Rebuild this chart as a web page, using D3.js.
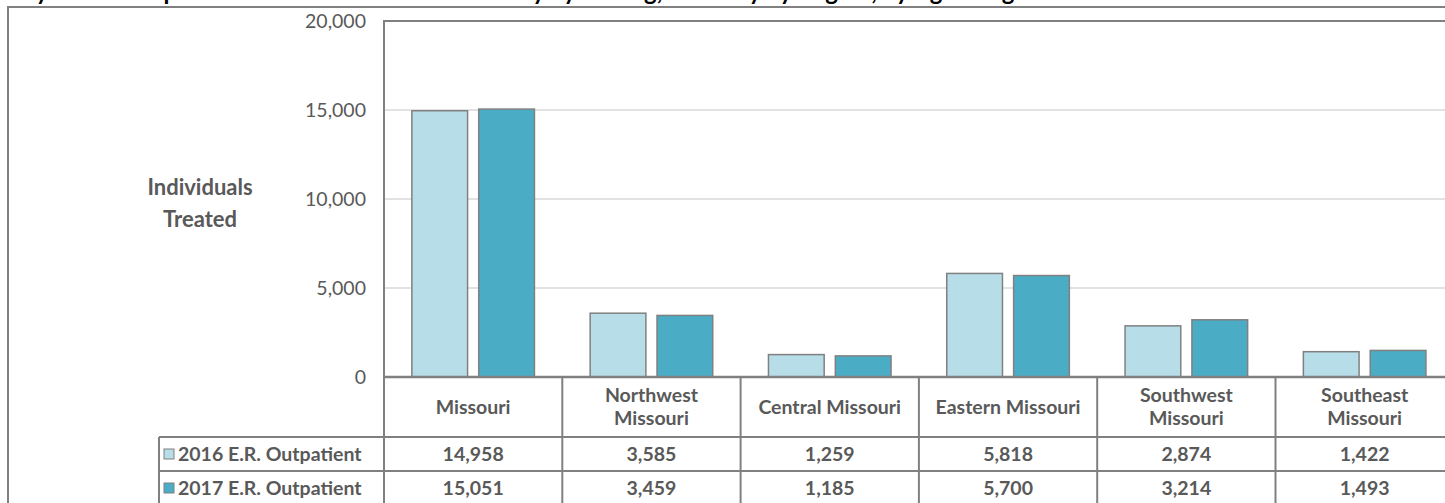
<!DOCTYPE html>
<html>
<head>
<meta charset="utf-8">
<script src="https://cdn.jsdelivr.net/npm/d3@7"></script>
<style>
  html, body { margin: 0; padding: 0; background: #fff; }
  svg { display: block; }
  text { font-family: Lato, "Open Sans", sans-serif; }
</style>
</head>
<body>
<svg id="chart" width="1445" height="503"></svg>
<script>
const title = "Emergency Room Outpatient Individuals Treated Annually by Setting, Annually by Region, by Age Range";
const categories = ["Missouri", "Northwest Missouri", "Central Missouri", "Eastern Missouri", "Southwest Missouri", "Southeast Missouri"];
const categoryLines = [["Missouri"], ["Northwest", "Missouri"], ["Central Missouri"], ["Eastern Missouri"], ["Southwest", "Missouri"], ["Southeast", "Missouri"]];
const seriesNames = ["2016 E.R. Outpatient", "2017 E.R. Outpatient"];
const values2016 = [14958, 3585, 1259, 5818, 2874, 1422];
const values2017 = [15051, 3459, 1185, 5700, 3214, 1493];
const yTicks = [0, 5000, 10000, 15000, 20000];
const yTitle = ["Individuals", "Treated"];
const colors = ["#b7dde8", "#4bacc6"];

const seriesValues = [values2016, values2017];
const svg = d3.select("#chart");
const lineColor = "#808080";
const textColor = "#595959";
const fmt = d3.format(",");

const plotLeft = 384, plotTop = 21, plotBottom = 377, catW = 178.3;
const x = d3.scaleBand().domain(categories).range([plotLeft, plotLeft + catW * categories.length]).padding(0);
const xs = d3.scaleBand().domain(seriesNames).range([0, x.bandwidth()]).paddingInner(1/6).paddingOuter(0.5/1.2);
const y = d3.scaleLinear().domain([0, 20000]).range([plotBottom, plotTop]);

// title (clipped at top, as in the source)
svg.append("text").attr("x", -70).attr("y", 0).attr("font-size", 24).attr("font-weight", "bold")
  .attr("fill", "#000").text(title);

// outer border
svg.append("path").attr("d", `M8,503 V7 H1445`).attr("fill", "none").attr("stroke", lineColor).attr("stroke-width", 2);

// gridlines
const grid = svg.append("g");
yTicks.filter(t => t > 0 && t < 20000).forEach(t => {
  grid.append("line").attr("x1", plotLeft).attr("x2", 1445).attr("y1", y(t)).attr("y2", y(t))
    .attr("stroke", "#d9d9d9").attr("stroke-width", 1.5);
});

// y axis labels
const yAxis = d3.axisLeft(y).tickValues(yTicks).tickFormat(fmt).tickSize(0).tickPadding(18);
const ya = svg.append("g").attr("transform", `translate(${plotLeft},0)`).call(yAxis);
ya.select(".domain").remove();
ya.selectAll("text").attr("font-size", 19.5).attr("fill", textColor).attr("font-family", "Lato, 'Open Sans', sans-serif");

// y title
svg.append("text").attr("x", 200).attr("y", 195).attr("text-anchor", "middle")
  .attr("font-size", 22).attr("font-weight", "bold").attr("fill", textColor)
  .selectAll("tspan").data(yTitle).join("tspan")
  .attr("x", 200).attr("dy", (d, i) => i === 0 ? 0 : 32).text(d => d);

// bars
categories.forEach((c, ci) => {
  seriesNames.forEach((s, si) => {
    const v = seriesValues[si][ci];
    svg.append("rect")
      .attr("x", x(c) + xs(s)).attr("width", xs.bandwidth())
      .attr("y", y(v)).attr("height", y(0) - y(v))
      .attr("fill", colors[si]).attr("stroke", lineColor).attr("stroke-width", 1.5);
  });
});

// plot border top + left
svg.append("path").attr("d", `M${plotLeft},503 V${plotTop} H1445`).attr("fill", "none").attr("stroke", lineColor).attr("stroke-width", 2);

// data table
const rowY = [377, 437, 471, 505];
const tableLeft = 159;
const fs = 19.5;
const t = svg.append("g");
t.append("line").attr("x1", plotLeft).attr("x2", 1445).attr("y1", rowY[0]).attr("y2", rowY[0]).attr("stroke", lineColor).attr("stroke-width", 2.5);
[rowY[1], rowY[2], rowY[3]].forEach(yy => {
  t.append("line").attr("x1", tableLeft).attr("x2", 1445).attr("y1", yy).attr("y2", yy).attr("stroke", lineColor).attr("stroke-width", 2);
});
t.append("line").attr("x1", tableLeft).attr("x2", tableLeft).attr("y1", rowY[1]).attr("y2", 503).attr("stroke", lineColor).attr("stroke-width", 2);
categories.forEach((c, ci) => {
  const xr = x(c) + x.bandwidth();
  t.append("line").attr("x1", xr).attr("x2", xr).attr("y1", rowY[0]).attr("y2", 503).attr("stroke", lineColor).attr("stroke-width", 2);
  const lines = categoryLines[ci];
  const cx = x(c) + x.bandwidth() / 2;
  const midY = (rowY[0] + rowY[1]) / 2;
  const lh = 23;
  lines.forEach((ln, li) => {
    t.append("text").attr("x", cx).attr("y", midY + (li - (lines.length - 1) / 2) * lh)
      .attr("dy", "0.35em").attr("text-anchor", "middle").attr("font-size", fs).attr("font-weight", "bold")
      .attr("fill", textColor).text(ln);
  });
  seriesValues.forEach((vals, si) => {
    t.append("text").attr("x", cx).attr("y", (rowY[si + 1] + rowY[si + 2]) / 2)
      .attr("dy", "0.35em").attr("text-anchor", "middle").attr("font-size", fs).attr("font-weight", "bold")
      .attr("fill", textColor).text(fmt(vals[ci]));
  });
});
// legend cells
seriesNames.forEach((s, si) => {
  const cy = (rowY[si + 1] + rowY[si + 2]) / 2;
  t.append("rect").attr("x", 164).attr("y", cy - 5).attr("width", 10).attr("height", 10)
    .attr("fill", colors[si]).attr("stroke", lineColor).attr("stroke-width", 1);
  t.append("text").attr("x", 178).attr("y", cy).attr("dy", "0.35em").attr("font-size", fs).attr("font-weight", "bold")
    .attr("fill", textColor).text(s);
});
</script>
</body>
</html>
